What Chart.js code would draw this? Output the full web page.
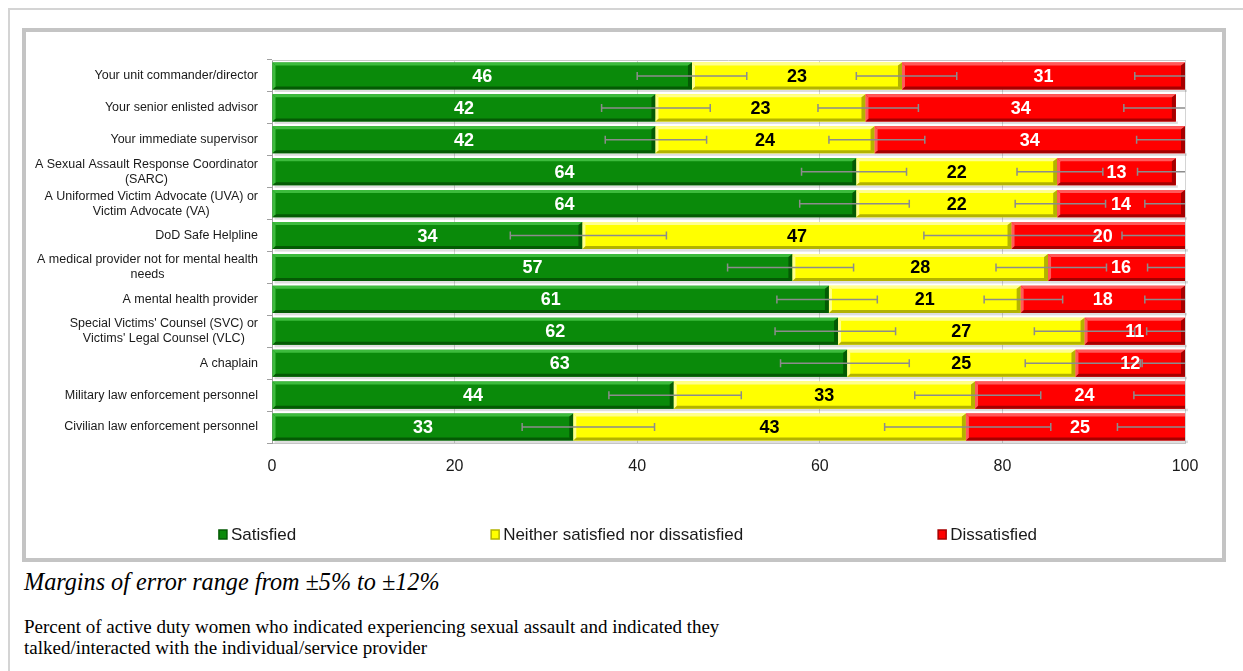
<!DOCTYPE html>
<html>
<head>
<meta charset="utf-8">
<script src="https://cdn.jsdelivr.net/npm/chart.js@4.4.0/dist/chart.umd.min.js"></script>
<style>
  body { margin: 0; background: #fff; width: 1243px; height: 671px; overflow: hidden; position: relative; }
  #frame { position: absolute; left: 8px; top: 8px; right: 0; bottom: 0; border-top: 2px solid #d4d4d4; border-left: 2px solid #d4d4d4; }
  #box { position: absolute; left: 22px; top: 28px; width: 1204px; height: 534px; border: 4px solid #c4c4c4; box-sizing: border-box; background: #fff; }
  #box canvas { position: absolute; left: 0; top: 0; }
  .note1 { position: absolute; left: 24px; top: 568px; font: italic 24.2px "Liberation Serif", "Times New Roman", serif; color: #000; white-space: nowrap; }
  .note2 { position: absolute; left: 24px; top: 616px; font: 19px/21px "Liberation Serif", "Times New Roman", serif; color: #000; width: 730px; }
</style>
</head>
<body>
<div id="frame"></div>
<div id="box"><canvas id="myChart" width="1196" height="526"></canvas></div>
<div class="note1">Margins of error range from ±5% to ±12%</div>
<div class="note2">Percent of active duty women who indicated experiencing sexual assault and indicated they talked/interacted with the individual/service provider</div>

<script>
// categorias (linhas do gráfico), de cima para baixo
const categorias = [
    ["Your unit commander/director"],
    ["Your senior enlisted advisor"],
    ["Your immediate supervisor"],
    ["A Sexual Assault Response Coordinator", "(SARC)"],
    ["A Uniformed Victim Advocate (UVA) or", "Victim Advocate (VA)"],
    ["DoD Safe Helpline"],
    ["A medical provider not for mental health", "needs"],
    ["A mental health provider"],
    ["Special Victims' Counsel (SVC) or", "Victims' Legal Counsel (VLC)"],
    ["A chaplain"],
    ["Military law enforcement personnel"],
    ["Civilian law enforcement personnel"]
];

const seriesNames = ["Satisfied", "Neither satisfied nor dissatisfied", "Dissatisfied"];

const satisfied    = [46, 42, 42, 64, 64, 34, 57, 61, 62, 63, 44, 33];
const neither      = [23, 23, 24, 22, 22, 47, 28, 21, 27, 25, 33, 43];
const dissatisfied = [31, 34, 34, 13, 14, 20, 16, 18, 11, 12, 24, 25];

// barras de erro (limite inferior / superior)
const satErrLo = [40.0, 36.1, 36.5, 58.0, 57.8, 26.1, 49.9, 55.3, 55.1, 55.7, 36.9, 27.4];
const satErrHi = [52.0, 48.0, 47.6, 69.5, 69.8, 43.2, 63.7, 66.3, 68.3, 69.8, 51.4, 41.9];
const neiErrLo = [64.0, 59.8, 61.0, 81.6, 81.4, 71.4, 79.3, 78.0, 83.5, 82.5, 70.4, 67.1];
const neiErrHi = [75.0, 70.8, 71.5, 91.0, 91.3, 90.6, 91.4, 86.6, 94.5, 95.1, 84.2, 85.3];
const disErrLo = [94.5, 93.3, 94.7, 94.8, 95.6, 93.1, 95.9, 95.6, 95.8, 95.3, 94.4, 92.6];
const disErrHi = [105.5, 104.7, 105.3, 103.2, 104.4, 106.9, 104.1, 104.4, 104.2, 104.7, 105.6, 107.4];

const xTickValues = [0, 20, 40, 60, 80, 100];

const cores = [
    { main: "#0a8a0a", light: "#3dbb3d", dark: "#045a04", text: "#ffffff" },
    { main: "#ffff00", light: "#ffff8c", dark: "#b3b300", text: "#000000" },
    { main: "#ff0000", light: "#ff5a5a", dark: "#a50000", text: "#ffffff" }
];

const errLo = [satErrLo, neiErrLo, disErrLo];
const errHi = [satErrHi, neiErrHi, disErrHi];

const FONT = '"Liberation Sans", Arial, sans-serif';

function barRect(el) {
    const p = el.getProps(["x", "y", "base", "height"], true);
    return {
        left: Math.min(p.x, p.base),
        right: Math.max(p.x, p.base),
        top: p.y - p.height / 2,
        bottom: p.y + p.height / 2,
        cx: (p.x + p.base) / 2,
        cy: p.y
    };
}

const desenhos = {
    id: "desenhos",
    beforeDatasetsDraw(chart) {
        const ctx = chart.ctx, area = chart.chartArea;
        ctx.save();
        ctx.beginPath();
        ctx.rect(area.left, area.top, area.right - area.left + 3, area.bottom - area.top + 4);
        ctx.clip();
        ctx.fillStyle = "rgba(0,0,0,0.13)";
        chart.data.datasets.forEach((ds, i) => {
            chart.getDatasetMeta(i).data.forEach(el => {
                const r = barRect(el);
                ctx.fillRect(r.left + 2, r.bottom, r.right - r.left, 2.5);
            });
        });
        ctx.restore();
    },
    afterDatasetsDraw(chart) {
        const ctx = chart.ctx, area = chart.chartArea;
        const xs = chart.scales.x, ys = chart.scales.y;
        ctx.save();
        ctx.beginPath();
        ctx.rect(area.left, area.top, area.right - area.left, area.bottom - area.top);
        ctx.clip();

        // efeito de chanfro nas barras
        const b = 3;
        chart.data.datasets.forEach((ds, i) => {
            const c = cores[i];
            chart.getDatasetMeta(i).data.forEach(el => {
                const r = barRect(el);
                const quad = (pts, col) => {
                    ctx.fillStyle = col;
                    ctx.beginPath();
                    ctx.moveTo(pts[0], pts[1]);
                    for (let k = 2; k < pts.length; k += 2) ctx.lineTo(pts[k], pts[k + 1]);
                    ctx.closePath();
                    ctx.fill();
                };
                quad([r.left, r.top, r.right, r.top, r.right - b, r.top + b, r.left + b, r.top + b], c.light);
                quad([r.left, r.bottom, r.right, r.bottom, r.right - b, r.bottom - b, r.left + b, r.bottom - b], c.dark);
                quad([r.right, r.top, r.right, r.bottom, r.right - b - 1, r.bottom - b, r.right - b - 1, r.top + b], c.dark);
                quad([r.left, r.top, r.left, r.bottom, r.left + b, r.bottom - b, r.left + b, r.top + b], c.light);
            });
        });

        // barras de erro
        ctx.strokeStyle = "#8c8c8c";
        ctx.lineWidth = 1.5;
        for (let i = 0; i < 3; i++) {
            for (let j = 0; j < categorias.length; j++) {
                const x1 = xs.getPixelForValue(errLo[i][j]);
                const x2 = xs.getPixelForValue(errHi[i][j]);
                const y = ys.getPixelForValue(j);
                ctx.beginPath();
                ctx.moveTo(x1, y); ctx.lineTo(x2, y);
                ctx.moveTo(x1, y - 4); ctx.lineTo(x1, y + 4);
                ctx.moveTo(x2, y - 4); ctx.lineTo(x2, y + 4);
                ctx.stroke();
            }
        }
        ctx.restore();

        // rótulos dos valores
        ctx.save();
        ctx.font = "bold 18px " + FONT;
        ctx.textAlign = "center";
        ctx.textBaseline = "middle";
        chart.data.datasets.forEach((ds, i) => {
            ctx.fillStyle = cores[i].text;
            chart.getDatasetMeta(i).data.forEach((el, j) => {
                const r = barRect(el);
                ctx.fillText(String(ds.data[j]), r.cx, r.cy + 1);
            });
        });
        ctx.restore();
    },
    afterDraw(chart) {
        const ctx = chart.ctx, area = chart.chartArea, ys = chart.scales.y;
        ctx.save();
        // borda superior da área do gráfico
        ctx.strokeStyle = "#c8c8c8";
        ctx.lineWidth = 1;
        ctx.beginPath();
        ctx.moveTo(area.left, area.top + 0.5);
        ctx.lineTo(area.right, area.top + 0.5);
        ctx.stroke();

        // rótulos das categorias (bloco alinhado à direita, linhas centralizadas)
        ctx.font = "12.5px " + FONT;
        ctx.fillStyle = "#1a1a1a";
        ctx.textAlign = "center";
        ctx.textBaseline = "middle";
        const rightX = area.left - 14;
        categorias.forEach((linhas, j) => {
            const w = Math.max(...linhas.map(t => ctx.measureText(t).width));
            const cy = ys.getPixelForValue(j);
            linhas.forEach((t, k) => {
                ctx.fillText(t, rightX - w / 2, cy + (k - (linhas.length - 1) / 2) * 15);
            });
        });

        // legenda
        ctx.font = "17px " + FONT;
        ctx.textAlign = "left";
        const box = 8, gapTxt = 4, gapItem = 195;
        const larguras = seriesNames.map(t => box + gapTxt + ctx.measureText(t).width);
        const total = larguras.reduce((a, v) => a + v, 0) + gapItem * (seriesNames.length - 1);
        let x = chart.width / 2 - total / 2 + 4;
        const y = 503;
        seriesNames.forEach((t, i) => {
            ctx.fillStyle = cores[i].main;
            ctx.fillRect(x, y - 5, box, box + 1);
            ctx.strokeStyle = cores[i].dark;
            ctx.lineWidth = 1.5;
            ctx.strokeRect(x, y - 5, box, box + 1);
            ctx.fillStyle = "#1a1a1a";
            ctx.fillText(t, x + box + gapTxt, y);
            x += larguras[i] + gapItem;
        });
        ctx.restore();
    }
};

const ctx = document.getElementById("myChart").getContext("2d");
new Chart(ctx, {
    type: "bar",
    data: {
        labels: categorias,
        datasets: [
            { label: seriesNames[0], data: satisfied, backgroundColor: cores[0].main },
            { label: seriesNames[1], data: neither, backgroundColor: cores[1].main },
            { label: seriesNames[2], data: dissatisfied, backgroundColor: cores[2].main }
        ]
    },
    options: {
        indexAxis: "y",
        responsive: false,
        devicePixelRatio: 1,
        animation: false,
        layout: { padding: { top: 28, right: 37, bottom: 55, left: 0 } },
        datasets: { bar: { barPercentage: 0.85, categoryPercentage: 1, borderWidth: 0 } },
        plugins: { legend: { display: false }, tooltip: { enabled: false } },
        scales: {
            x: {
                stacked: true,
                min: 0,
                max: 100,
                afterBuildTicks: (s) => { s.ticks = xTickValues.map(v => ({ value: v })); },
                afterFit: (s) => { s.height = 60; },
                grid: { color: "#d4d4d4", drawTicks: false },
                border: { color: "#c8c8c8" },
                ticks: { padding: 14, color: "#1a1a1a", font: { family: FONT, size: 16 } }
            },
            y: {
                stacked: true,
                afterFit: (s) => { s.width = 246; },
                grid: { offset: true, drawOnChartArea: false, drawTicks: true, tickLength: 5, color: "#a0a0a0" },
                border: { color: "#a0a0a0" },
                ticks: { display: false }
            }
        }
    },
    plugins: [desenhos]
});
</script>
</body>
</html>
